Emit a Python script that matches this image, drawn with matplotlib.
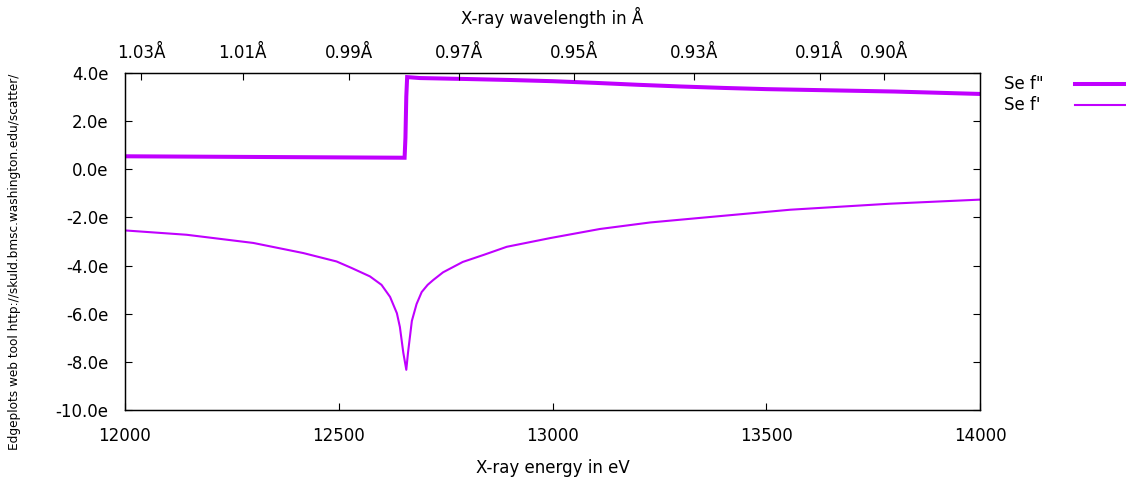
import numpy as np
import matplotlib
matplotlib.use("Agg")
import matplotlib.pyplot as plt
from matplotlib.lines import Line2D

# --- dados: fatores de espalhamento anômalo do Se perto da borda K ---
energia_f2 = [12000, 12654, 12656, 12658, 12660, 12690, 12800, 12900, 13000,
              13100, 13200, 13300, 13400, 13500, 13650, 13800, 13900, 14000]
f2 = [0.54, 0.48, 1.31, 3.02, 3.83, 3.79, 3.75, 3.71, 3.66,
      3.59, 3.51, 3.44, 3.38, 3.33, 3.28, 3.23, 3.18, 3.13]

energia_f1 = [12000, 12144, 12300, 12417, 12495, 12530, 12573, 12600, 12620,
              12636, 12643, 12651, 12658, 12662, 12671, 12682, 12694, 12708,
              12721, 12744, 12790, 12840, 12893, 12994, 13111, 13228, 13345,
              13556, 13789, 14000]
f1 = [-2.54, -2.72, -3.06, -3.48, -3.83, -4.10, -4.45, -4.80, -5.30,
      -5.98, -6.55, -7.62, -8.33, -7.62, -6.30, -5.60, -5.10, -4.80,
      -4.60, -4.28, -3.85, -3.55, -3.22, -2.86, -2.48, -2.21, -2.02,
      -1.68, -1.43, -1.26]

comprimentos = [1.03, 1.01, 0.99, 0.97, 0.95, 0.93, 0.91, 0.90]
y_ticks = [4, 2, 0, -2, -4, -6, -8, -10]
x_ticks = [12000, 12500, 13000, 13500, 14000]
rotulos = ['Se f"', "Se f'"]

cor = '#c000ff'
plt.rcParams['font.family'] = ['DejaVu Sans']

fig = plt.figure(figsize=(11.26, 4.78), dpi=100)
ax = fig.add_axes([125/1126, 68/478, 855/1126, 337/478])

ax.plot(energia_f2, f2, color=cor, lw=2.9, solid_joinstyle='miter')
ax.plot(energia_f1, f1, color=cor, lw=1.5)

ax.set_xlim(12000, 14000)
ax.set_ylim(-10, 4)
ax.set_xticks(x_ticks)
ax.set_xticklabels([str(v) for v in x_ticks])
ax.set_yticks(y_ticks)
ax.set_yticklabels([f"{v:.1f}e" for v in y_ticks])
ax.tick_params(axis='both', direction='in', length=5, width=0.8, labelsize=12)
ax.tick_params(axis='x', pad=12)
ax.tick_params(axis='y', pad=12, right=True)
ax.set_xlabel('X-ray energy in eV', fontsize=12, labelpad=10)

# eixo superior em comprimento de onda (lambda = hc / E)
ax2 = ax.twiny()
ax2.set_xlim(ax.get_xlim())
ax2.set_xticks([12398.4 / w for w in comprimentos])
ax2.set_xticklabels([f"{w:.2f}Å" for w in comprimentos])
ax2.tick_params(axis='x', direction='in', length=5, width=0.8, labelsize=12, pad=8)
ax2.set_xlabel('X-ray wavelength in Å', fontsize=12, labelpad=14)

for a in (ax, ax2):
    for s in a.spines.values():
        s.set_linewidth(0.9)

# legenda no estilo gnuplot: texto à esquerda, amostra da linha à direita
for i, (linha, rotulo) in enumerate(zip(ax.get_lines(), rotulos)):
    y = 1 - (84 + 21 * i) / 478
    fig.text(1004/1126, y, rotulo, ha='left', va='center', fontsize=12)
    fig.add_artist(Line2D([1075/1126, 1126/1126], [y, y], transform=fig.transFigure,
                          color=linha.get_color(), lw=linha.get_linewidth()))

fig.text(15/1126, 1 - 262/478, 'Edgeplots web tool http://skuld.bmsc.washington.edu/scatter/',
         rotation=90, ha='center', va='center', fontsize=8.7)

fig.savefig('out.png', dpi=100)
